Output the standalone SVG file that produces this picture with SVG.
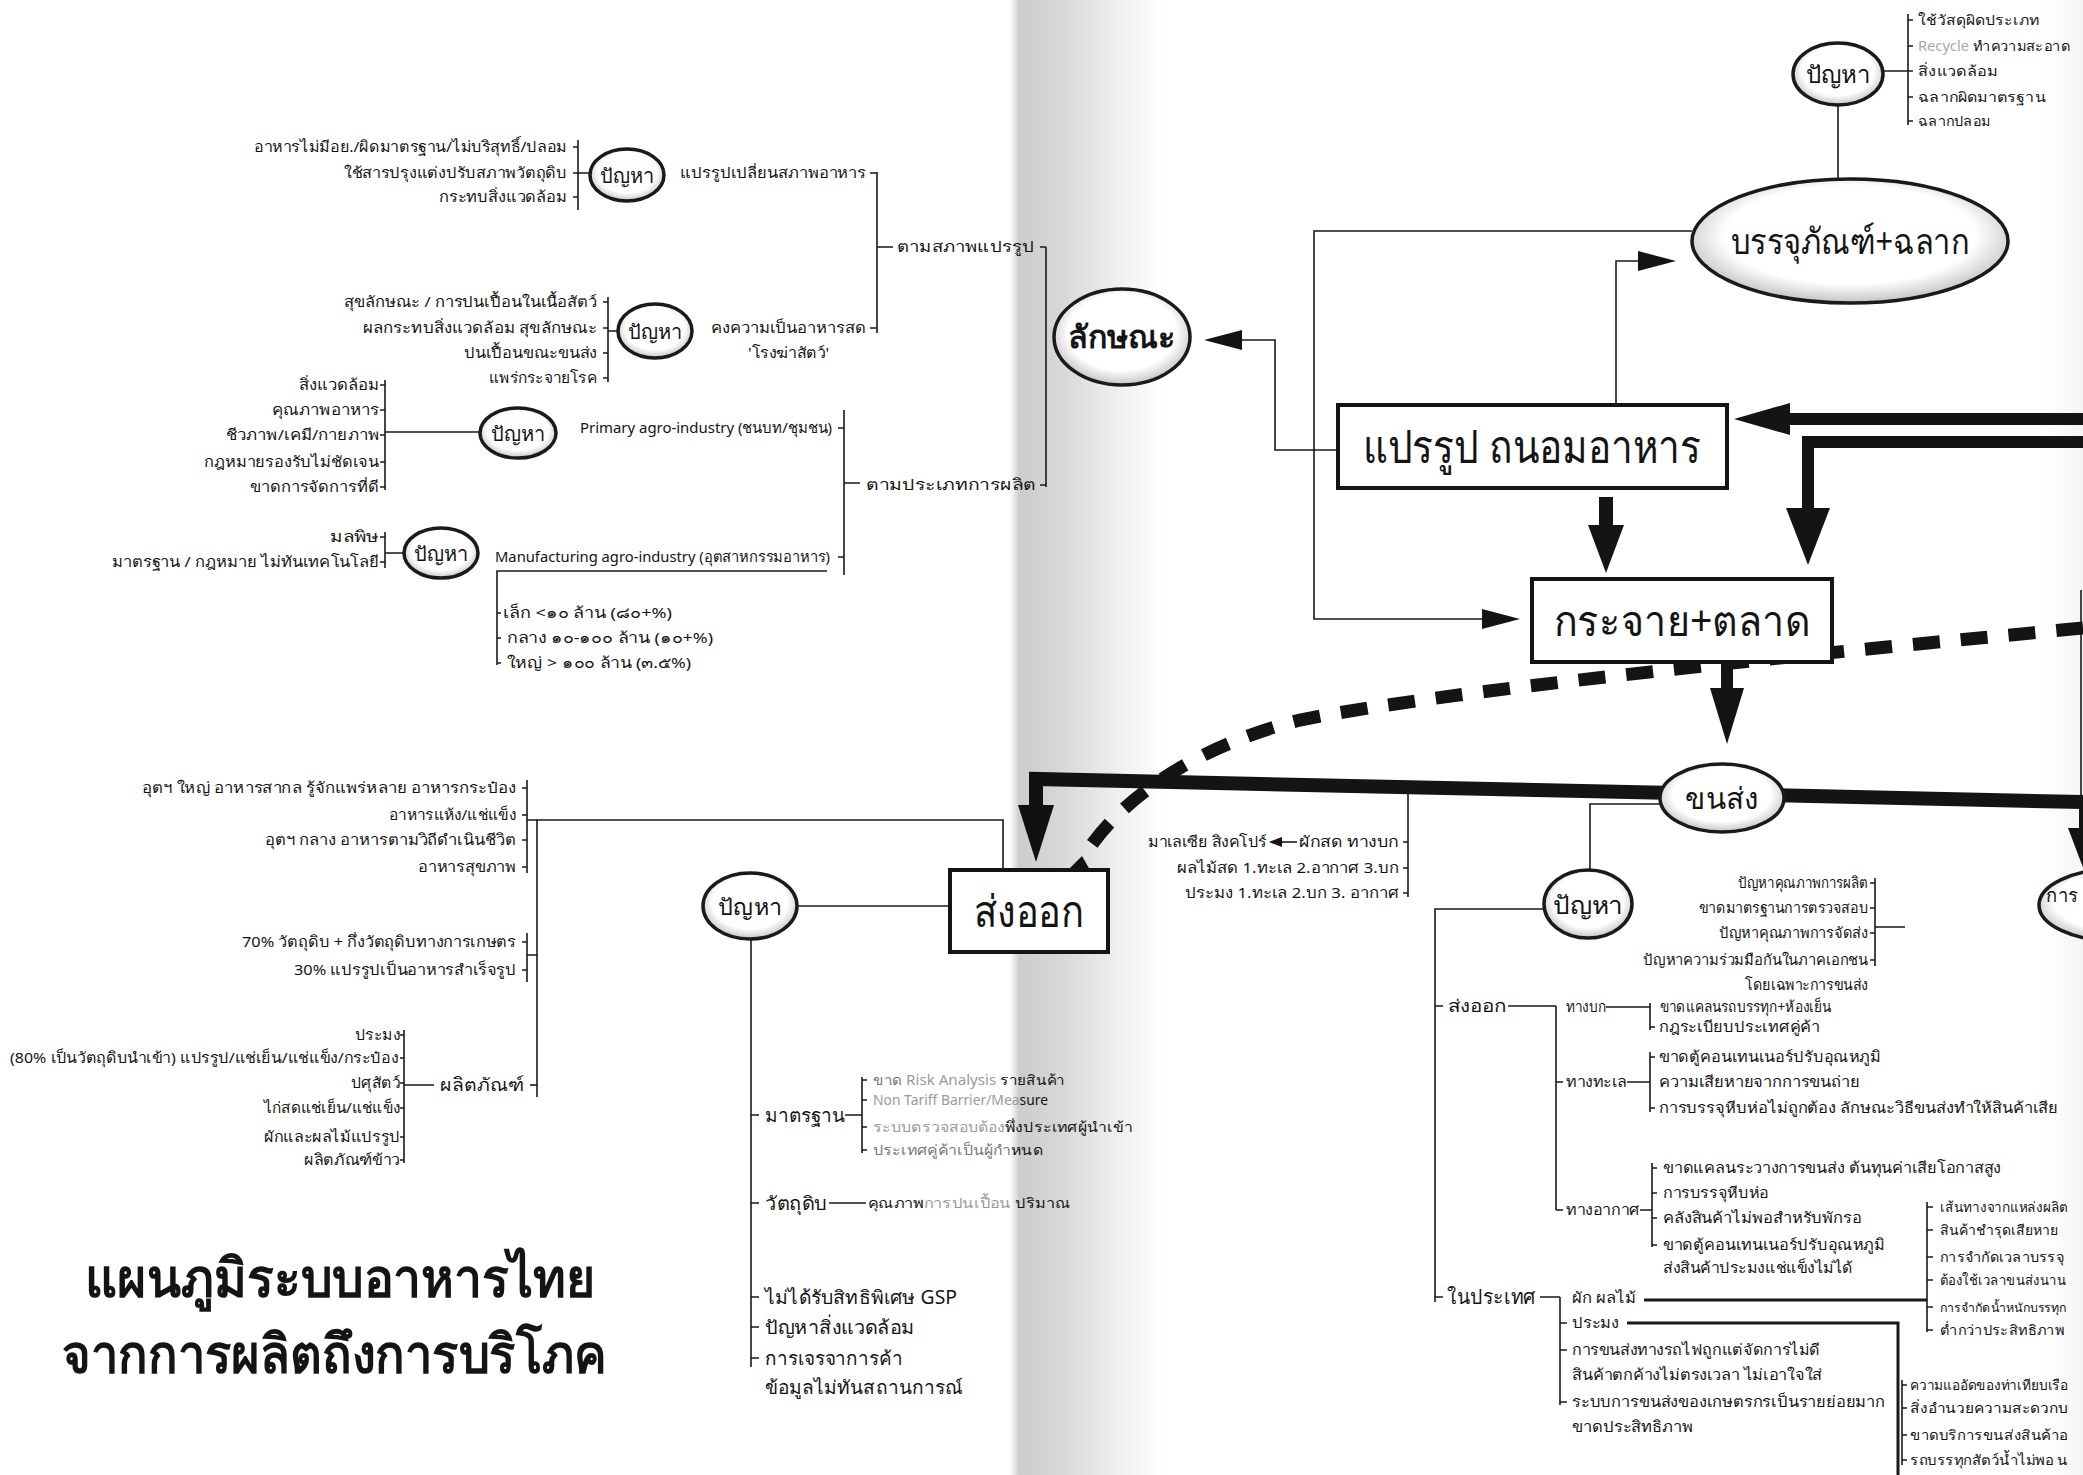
<svg xmlns="http://www.w3.org/2000/svg" width="2083" height="1475" viewBox="0 0 2083 1475">
<style>
text{font-family:"Noto Sans","DejaVu Sans",sans-serif;fill:#141414}
.s{font-size:15px}
.e{font-size:14px}
.m{font-size:19px}
.ln{stroke:#1a1a1a;stroke-width:1.6;fill:none}
.ln2{stroke:#1a1a1a;stroke-width:3;fill:none}
.thick{stroke:#141414;fill:none}
.box{fill:#fff;stroke:#141414;stroke-width:4}
.oval{fill:url(#og);stroke:#1a1a1a;stroke-width:3.5}
.ah{fill:#141414}
.c{text-anchor:middle}
.f{fill:#9a9a9a}
</style>
<defs>
<radialGradient id="og" cx="50%" cy="45%" r="55%">
<stop offset="0.72" stop-color="#ffffff"/>
<stop offset="1" stop-color="#c4c4c4"/>
</radialGradient>
<linearGradient id="spine" x1="0" y1="0" x2="1" y2="0">
<stop offset="0" stop-color="#000" stop-opacity="0"/>
<stop offset="0.06" stop-color="#000" stop-opacity="0.2"/>
<stop offset="0.35" stop-color="#000" stop-opacity="0.15"/>
<stop offset="0.75" stop-color="#000" stop-opacity="0.05"/>
<stop offset="1" stop-color="#000" stop-opacity="0"/>
</linearGradient>
<linearGradient id="edge" x1="0" y1="0" x2="1" y2="0">
<stop offset="0" stop-color="#000" stop-opacity="0"/>
<stop offset="1" stop-color="#000" stop-opacity="0.04"/>
</linearGradient>
</defs>
<rect width="2083" height="1475" fill="#fff"/>

<g id="connectors">
<path class="ln" d="M1338,450 H1275 V340 H1240"/>
<polygon class="ah" points="1204,340 1242,330 1242,350"/>
<path class="ln" d="M1692,231 H1314 V619 H1484"/>
<polygon class="ah" points="1520,619 1482,609 1482,629"/>
<path class="ln" d="M1616,405 V261 H1640"/>
<polygon class="ah" points="1676,261 1638,251 1638,271"/>
<path class="ln" d="M1838,105 V180"/>
<rect class="ah" x="1599" y="497" width="14" height="32"/>
<polygon class="ah" points="1588,525 1624,525 1606,573"/>
<path class="thick" stroke-width="12" d="M2083,419 H1786"/>
<polygon class="ah" points="1734,419 1790,403 1790,435"/>
<path class="thick" stroke-width="12" d="M2083,442 H1808 V512"/>
<polygon class="ah" points="1786,508 1830,508 1808,565"/>
<rect class="ah" x="1721" y="662" width="12" height="30"/>
<polygon class="ah" points="1710,688 1744,688 1727,744"/>
<path class="thick" stroke-width="14" d="M2083,802 L1036,779 V808"/>
<polygon class="ah" points="1018,805 1054,805 1036,862"/>
<rect class="ah" x="2079" y="802" width="12" height="30"/>
<polygon class="ah" points="2068,828 2100,828 2084,870"/>
<path class="ln" d="M2081,590 V800"/>
<path class="thick" stroke-width="13" stroke-dasharray="27 21" d="M2083,628 C1800,655 1450,690 1300,720 C1200,745 1125,795 1088,850"/>
<polygon class="ah" points="1068,870 1090,870 1082,856"/>
<path class="ln" d="M1003,870 V820 H537 V1097"/>
<path class="ln" d="M797,906 H950"/>
<path class="ln" d="M751,939 V1367"/>
<path class="ln" d="M1408,785 V897"/>
<path class="ln" d="M1660,804 H1590 V871"/>
<path class="ln" d="M1544,909 H1435 V1302"/>
</g>

<rect x="1010" y="0" width="155" height="1475" fill="url(#spine)"/>
<rect x="2040" y="0" width="43" height="1475" fill="url(#edge)"/>

<g id="n-lakshana">
<path class="ln" d="M1046,247 V487"/>
<ellipse class="oval" cx="1122" cy="337" rx="68" ry="48"/>
<text x="1122" y="348" class="c" font-size="31" font-weight="bold" textLength="108" lengthAdjust="spacingAndGlyphs">ลักษณะ</text>
</g>

<g id="n-process">
<rect class="box" x="1338" y="405" width="389" height="83"/>
<text x="1532" y="463" class="c" font-size="46" textLength="339" lengthAdjust="spacingAndGlyphs">แปรรูป ถนอมอาหาร</text>
</g>

<g id="n-market">
<rect class="box" x="1532" y="579" width="300" height="83"/>
<text x="1682" y="636" class="c" font-size="42" textLength="256" lengthAdjust="spacingAndGlyphs">กระจาย+ตลาด</text>
</g>

<g id="n-package">
<ellipse class="oval" cx="1850" cy="241" rx="158" ry="62"/>
<text x="1850" y="254" class="c" font-size="36" textLength="239" lengthAdjust="spacingAndGlyphs">บรรจุภัณฑ์+ฉลาก</text>
</g>

<g id="n-package-problem">
<ellipse class="oval" cx="1838" cy="74" rx="45" ry="31"/>
<text x="1838" y="83" class="c" font-size="24" textLength="64" lengthAdjust="spacingAndGlyphs">ปัญหา</text>
<path class="ln" d="M1883,71 H1908 M1908,14 V125 M1908,20 h5 M1908,46 h5 M1908,71 h5 M1908,97 h5 M1908,121 h5"/>
<text class="e" x="1918" y="25" textLength="121" lengthAdjust="spacingAndGlyphs">ใช้วัสดุผิดประเภท</text>
<text class="e" x="1918" y="51" textLength="152" lengthAdjust="spacingAndGlyphs"><tspan fill="#aaa">Recycle</tspan> ทำความสะอาด</text>
<text class="e" x="1918" y="76" textLength="79" lengthAdjust="spacingAndGlyphs">สิ่งแวดล้อม</text>
<text class="e" x="1918" y="102" textLength="128" lengthAdjust="spacingAndGlyphs">ฉลากผิดมาตรฐาน</text>
<text class="e" x="1918" y="126" textLength="72" lengthAdjust="spacingAndGlyphs">ฉลากปลอม</text>
</g>

<g id="n-p1">
<path class="ln" d="M578,140 V210 M573,147 h5 M573,173 h5 M573,197 h5 M578,173 H590"/>
<text class="s" x="254" y="152" textLength="313" lengthAdjust="spacingAndGlyphs">อาหารไม่มีอย./ผิดมาตรฐาน/ไม่บริสุทธิ์/ปลอม</text>
<text class="s" x="344" y="178" textLength="223" lengthAdjust="spacingAndGlyphs">ใช้สารปรุงแต่งปรับสภาพวัตถุดิบ</text>
<text class="s" x="439" y="202" textLength="128" lengthAdjust="spacingAndGlyphs">กระทบสิ่งแวดล้อม</text>
<ellipse class="oval" cx="627" cy="175" rx="37" ry="26"/>
<text x="627" y="183" class="c" font-size="20" textLength="54" lengthAdjust="spacingAndGlyphs">ปัญหา</text>
<text class="s" x="680" y="178" textLength="186" lengthAdjust="spacingAndGlyphs">แปรรูปเปลี่ยนสภาพอาหาร</text>
</g>

<g id="n-p2">
<path class="ln" d="M608,297 V382 M603,302 h5 M603,328 h5 M603,353 h5 M603,378 h5 M608,331 H619"/>
<text class="s" x="344" y="307" textLength="253" lengthAdjust="spacingAndGlyphs">สุขลักษณะ / การปนเปื้อนในเนื้อสัตว์</text>
<text class="s" x="363" y="333" textLength="234" lengthAdjust="spacingAndGlyphs">ผลกระทบสิ่งแวดล้อม สุขลักษณะ</text>
<text class="s" x="464" y="358" textLength="133" lengthAdjust="spacingAndGlyphs">ปนเปื้อนขณะขนส่ง</text>
<text class="s" x="489" y="383" textLength="108" lengthAdjust="spacingAndGlyphs">แพร่กระจายโรค</text>
<ellipse class="oval" cx="655" cy="331" rx="37" ry="27"/>
<text x="655" y="339" class="c" font-size="20" textLength="54" lengthAdjust="spacingAndGlyphs">ปัญหา</text>
<text class="s" x="711" y="333" textLength="155" lengthAdjust="spacingAndGlyphs">คงความเป็นอาหารสด</text>
<text class="s" x="748" y="358" textLength="81" lengthAdjust="spacingAndGlyphs">'โรงฆ่าสัตว์'</text>
</g>

<g id="n-by-state">
<path class="ln" d="M877,172 V333 M870,173 h7 M870,328 h7 M877,247 H893 M1040,247 h6"/>
<text class="s" x="897" y="252" textLength="137" lengthAdjust="spacingAndGlyphs">ตามสภาพแปรรูป</text>
</g>

<g id="n-p3">
<path class="ln" d="M385,380 V490 M380,385 h5 M380,410 h5 M380,435 h5 M380,462 h5 M380,487 h5 M385,432 H480"/>
<text class="s" x="299" y="390" textLength="80" lengthAdjust="spacingAndGlyphs">สิ่งแวดล้อม</text>
<text class="s" x="272" y="415" textLength="107" lengthAdjust="spacingAndGlyphs">คุณภาพอาหาร</text>
<text class="s" x="226" y="440" textLength="153" lengthAdjust="spacingAndGlyphs">ชีวภาพ/เคมี/กายภาพ</text>
<text class="s" x="204" y="467" textLength="175" lengthAdjust="spacingAndGlyphs">กฎหมายรองรับไม่ชัดเจน</text>
<text class="s" x="250" y="492" textLength="129" lengthAdjust="spacingAndGlyphs">ขาดการจัดการที่ดี</text>
<ellipse class="oval" cx="518" cy="433" rx="38" ry="25"/>
<text x="518" y="441" class="c" font-size="20" textLength="54" lengthAdjust="spacingAndGlyphs">ปัญหา</text>
<text class="s" x="580" y="433" font-size="14" textLength="252" lengthAdjust="spacingAndGlyphs">Primary agro-industry  (ชนบท/ชุมชน)</text>
</g>

<g id="n-p4">
<path class="ln" d="M385,532 V568 M380,537 h5 M380,562 h5 M385,553 H404"/>
<text class="s" x="330" y="542" textLength="49" lengthAdjust="spacingAndGlyphs">มลพิษ</text>
<text class="s" x="112" y="567" textLength="267" lengthAdjust="spacingAndGlyphs">มาตรฐาน / กฎหมาย ไม่ทันเทคโนโลยี</text>
<ellipse class="oval" cx="441" cy="553" rx="37" ry="25"/>
<text x="441" y="561" class="c" font-size="20" textLength="54" lengthAdjust="spacingAndGlyphs">ปัญหา</text>
<text class="s" x="495" y="562" textLength="335" lengthAdjust="spacingAndGlyphs">Manufacturing agro-industry (อุตสาหกรรมอาหาร)</text>
<path class="ln" d="M827,571 H497 V665 M497,613 h4 M497,638 h4 M497,663 h4"/>
<text class="s" x="503" y="618" textLength="169" lengthAdjust="spacingAndGlyphs">เล็ก &lt;๑๐ ล้าน (๘๐+%)</text>
<text class="s" x="507" y="643" textLength="206" lengthAdjust="spacingAndGlyphs">กลาง ๑๐-๑๐๐ ล้าน (๑๐+%)</text>
<text class="s" x="507" y="668" textLength="184" lengthAdjust="spacingAndGlyphs">ใหญ่ &gt; ๑๐๐ ล้าน (๓.๕%)</text>
</g>

<g id="n-by-type">
<path class="ln" d="M844,410 V575 M838,428 h6 M838,557 h6 M844,483 H860 M1040,485 h6"/>
<text class="s" x="866" y="490" textLength="170" lengthAdjust="spacingAndGlyphs">ตามประเภทการผลิต</text>
</g>

<g id="n-export-left">
<path class="ln" d="M527,780 V873 M522,788 h5 M522,815 h5 M522,840 h5 M522,867 h5 M527,820 H537"/>
<text class="s" x="142" y="793" textLength="374" lengthAdjust="spacingAndGlyphs">อุตฯ ใหญ่ อาหารสากล รู้จักแพร่หลาย อาหารกระป๋อง</text>
<text class="s" x="389" y="820" textLength="127" lengthAdjust="spacingAndGlyphs">อาหารแห้ง/แช่แข็ง</text>
<text class="s" x="265" y="845" textLength="251" lengthAdjust="spacingAndGlyphs">อุตฯ กลาง อาหารตามวิถีดำเนินชีวิต</text>
<text class="s" x="418" y="872" textLength="98" lengthAdjust="spacingAndGlyphs">อาหารสุขภาพ</text>
<path class="ln" d="M527,933 V982 M522,942 h5 M522,970 h5 M527,955 H537"/>
<text class="s" x="242" y="947" textLength="274" lengthAdjust="spacingAndGlyphs">70% วัตถุดิบ + กึ่งวัตถุดิบทางการเกษตร</text>
<text class="s" x="294" y="975" textLength="222" lengthAdjust="spacingAndGlyphs">30% แปรรูปเป็นอาหารสำเร็จรูป</text>
<path class="ln" d="M530,1085 H537"/>
<text x="440" y="1091" font-size="18" textLength="84" lengthAdjust="spacingAndGlyphs">ผลิตภัณฑ์</text>
<path class="ln" d="M404,1030 V1163 M400,1035 h4 M400,1058 h4 M400,1083 h4 M400,1108 h4 M400,1137 h4 M400,1160 h4 M404,1085 H434"/>
<text class="s" x="355" y="1040" textLength="45" lengthAdjust="spacingAndGlyphs">ประมง</text>
<text class="s" x="10" y="1063" textLength="388" lengthAdjust="spacingAndGlyphs">(80% เป็นวัตถุดิบนำเข้า) แปรรูป/แช่เย็น/แช่แข็ง/กระป๋อง</text>
<text class="s" x="351" y="1088" textLength="49" lengthAdjust="spacingAndGlyphs">ปศุสัตว์</text>
<text class="s" x="264" y="1113" textLength="136" lengthAdjust="spacingAndGlyphs">ไก่สดแช่เย็น/แช่แข็ง</text>
<text class="s" x="264" y="1142" textLength="136" lengthAdjust="spacingAndGlyphs">ผักและผลไม้แปรรูป</text>
<text class="s" x="304" y="1165" textLength="96" lengthAdjust="spacingAndGlyphs">ผลิตภัณฑ์ข้าว</text>
</g>

<g id="n-export">
<rect class="box" x="950" y="870" width="158" height="82"/>
<text x="1029" y="927" class="c" font-size="44" textLength="110" lengthAdjust="spacingAndGlyphs">ส่งออก</text>
</g>

<g id="n-export-problem">
<ellipse class="oval" cx="750" cy="906" rx="47" ry="33"/>
<text x="750" y="915" class="c" font-size="23" textLength="64" lengthAdjust="spacingAndGlyphs">ปัญหา</text>
<path class="ln" d="M751,1115 h8 M751,1203 h8 M751,1297 h8 M751,1327 h8 M751,1358 h8"/>
<text class="m" x="765" y="1122" textLength="80" lengthAdjust="spacingAndGlyphs">มาตรฐาน</text>
<path class="ln" d="M845,1115 H862 M862,1077 V1153 M862,1080 h5 M862,1100 h5 M862,1127 h5 M862,1150 h5"/>
<text x="873" y="1085" font-size="14" textLength="192" lengthAdjust="spacingAndGlyphs"><tspan fill="#777">ขาด</tspan><tspan class="f"> Risk Analysis </tspan>รายสินค้า</text>
<text x="873" y="1105" font-size="14" textLength="175" lengthAdjust="spacingAndGlyphs"><tspan class="f">Non Tariff Barrier/Mea</tspan>sure</text>
<text x="873" y="1132" font-size="14" textLength="260" lengthAdjust="spacingAndGlyphs"><tspan class="f">ระบบตรวจสอบต้อง</tspan>พึ่งประเทศผู้นำเข้า</text>
<text x="873" y="1155" font-size="14" textLength="170" lengthAdjust="spacingAndGlyphs"><tspan fill="#777">ประเทศคู่ค้าเป็นผู้กำ</tspan>หนด</text>
<text class="m" x="765" y="1210" textLength="62" lengthAdjust="spacingAndGlyphs">วัตถุดิบ</text>
<path class="ln" d="M829,1203 H866"/>
<text x="868" y="1208" font-size="14" textLength="202" lengthAdjust="spacingAndGlyphs">คุณภาพ<tspan class="f">การปนเปื้อน</tspan> ปริมาณ</text>
<text class="m" x="765" y="1304" textLength="192" lengthAdjust="spacingAndGlyphs">ไม่ได้รับสิทธิพิเศษ GSP</text>
<text class="m" x="765" y="1334" textLength="150" lengthAdjust="spacingAndGlyphs">ปัญหาสิ่งแวดล้อม</text>
<text class="m" x="765" y="1365" textLength="138" lengthAdjust="spacingAndGlyphs">การเจรจาการค้า</text>
<text class="m" x="765" y="1394" textLength="198" lengthAdjust="spacingAndGlyphs">ข้อมูลไม่ทันสถานการณ์</text>
</g>

<g id="n-export-routes">
<path class="ln" d="M1403,842 h5 M1403,868 h5 M1403,893 h5"/>
<text class="s" x="1148" y="847" textLength="119" lengthAdjust="spacingAndGlyphs">มาเลเซีย สิงคโปร์</text>
<path class="ln" d="M1297,842 H1280"/>
<polygon class="ah" points="1269,842 1282,837 1282,847"/>
<text class="s" x="1299" y="847" textLength="100" lengthAdjust="spacingAndGlyphs">ผักสด ทางบก</text>
<text class="s" x="1177" y="873" textLength="222" lengthAdjust="spacingAndGlyphs">ผลไม้สด 1.ทะเล 2.อากาศ 3.บก</text>
<text class="s" x="1185" y="898" textLength="214" lengthAdjust="spacingAndGlyphs">ประมง 1.ทะเล 2.บก 3. อากาศ</text>
</g>

<g id="n-transport">
<ellipse class="oval" cx="1722" cy="798" rx="62" ry="34"/>
<text x="1722" y="809" class="c" font-size="30" textLength="74" lengthAdjust="spacingAndGlyphs">ขนส่ง</text>
</g>

<g id="n-transport-problem">
<ellipse class="oval" cx="1588" cy="904" rx="44" ry="34"/>
<text x="1588" y="914" class="c" font-size="25" textLength="70" lengthAdjust="spacingAndGlyphs">ปัญหา</text>
<path class="ln" d="M1435,1006 h8 M1435,1297 h8"/>
<text x="1448" y="1012" font-size="17" textLength="58" lengthAdjust="spacingAndGlyphs">ส่งออก</text>
<path class="ln" d="M1508,1006 H1556 M1556,1006 V1210 M1556,1082 h7 M1556,1210 h7"/>
<text class="s" x="1566" y="1012" textLength="40" lengthAdjust="spacingAndGlyphs">ทางบก</text>
<path class="ln" d="M1606,1007 H1650 M1650,1003 V1030 M1650,1027 h5"/>
<text class="s" x="1660" y="1012" textLength="171" lengthAdjust="spacingAndGlyphs">ขาดแคลนรถบรรทุก+ห้องเย็น</text>
<text class="s" x="1659" y="1032" textLength="161" lengthAdjust="spacingAndGlyphs">กฎระเบียบประเทศคู่ค้า</text>
<text class="s" x="1566" y="1087" textLength="61" lengthAdjust="spacingAndGlyphs">ทางทะเล</text>
<path class="ln" d="M1627,1082 H1650 M1650,1052 V1112 M1650,1057 h5 M1650,1108 h5"/>
<text class="s" x="1659" y="1062" textLength="222" lengthAdjust="spacingAndGlyphs">ขาดตู้คอนเทนเนอร์ปรับอุณหภูมิ</text>
<text class="s" x="1659" y="1087" textLength="201" lengthAdjust="spacingAndGlyphs">ความเสียหายจากการขนถ่าย</text>
<text class="s" x="1659" y="1113" textLength="399" lengthAdjust="spacingAndGlyphs">การบรรจุหีบห่อไม่ถูกต้อง ลักษณะวิธีขนส่งทำให้สินค้าเสีย</text>
<text class="s" x="1566" y="1215" textLength="74" lengthAdjust="spacingAndGlyphs">ทางอากาศ</text>
<path class="ln" d="M1640,1210 H1652 M1652,1163 V1247 M1652,1168 h5 M1652,1193 h5 M1652,1218 h5 M1652,1245 h5"/>
<text class="s" x="1663" y="1173" textLength="338" lengthAdjust="spacingAndGlyphs">ขาดแคลนระวางการขนส่ง ต้นทุนค่าเสียโอกาสสูง</text>
<text class="s" x="1663" y="1198" textLength="106" lengthAdjust="spacingAndGlyphs">การบรรจุหีบห่อ</text>
<text class="s" x="1663" y="1223" textLength="199" lengthAdjust="spacingAndGlyphs">คลังสินค้าไม่พอสำหรับพักรอ</text>
<text class="s" x="1663" y="1250" textLength="222" lengthAdjust="spacingAndGlyphs">ขาดตู้คอนเทนเนอร์ปรับอุณหภูมิ</text>
<text class="s" x="1663" y="1273" textLength="190" lengthAdjust="spacingAndGlyphs">ส่งสินค้าประมงแช่แข็งไม่ได้</text>
<text x="1447" y="1304" font-size="20" textLength="89" lengthAdjust="spacingAndGlyphs">ในประเทศ</text>
<path class="ln" d="M1540,1297 H1560 M1560,1297 V1405 M1560,1323 h7 M1560,1350 h7 M1560,1402 h7"/>
<text class="s" x="1572" y="1303" textLength="64" lengthAdjust="spacingAndGlyphs">ผัก ผลไม้</text>
<path class="ln2" d="M1644,1300 H1927"/>
<path class="ln2" d="M1627,1323 H1898 V1475"/>
<path class="ln" d="M1927,1202 V1332 M1927,1207 h6 M1927,1230 h6 M1927,1257 h6 M1927,1280 h6 M1927,1307 h6 M1927,1330 h6"/>
<path class="ln" d="M1902,1380 V1465 M1902,1385 h5 M1902,1408 h5 M1902,1435 h5 M1902,1460 h5"/>
<text class="s" x="1572" y="1328" textLength="47" lengthAdjust="spacingAndGlyphs">ประมง</text>
<text class="s" x="1572" y="1355" textLength="248" lengthAdjust="spacingAndGlyphs">การขนส่งทางรถไฟถูกแต่จัดการไม่ดี</text>
<text class="s" x="1572" y="1380" textLength="250" lengthAdjust="spacingAndGlyphs">สินค้าตกค้างไม่ตรงเวลา ไม่เอาใจใส่</text>
<text class="s" x="1572" y="1407" textLength="313" lengthAdjust="spacingAndGlyphs">ระบบการขนส่งของเกษตรกรเป็นรายย่อยมาก</text>
<text class="s" x="1572" y="1432" textLength="121" lengthAdjust="spacingAndGlyphs">ขาดประสิทธิภาพ</text>
<text class="e" x="1940" y="1212" textLength="128" lengthAdjust="spacingAndGlyphs">เส้นทางจากแหล่งผลิต</text>
<text class="e" x="1940" y="1235" textLength="118" lengthAdjust="spacingAndGlyphs">สินค้าชำรุดเสียหาย</text>
<text class="e" x="1940" y="1262" textLength="124" lengthAdjust="spacingAndGlyphs">การจำกัดเวลาบรรจุ</text>
<text class="e" x="1940" y="1285" textLength="126" lengthAdjust="spacingAndGlyphs">ต้องใช้เวลาขนส่งนาน</text>
<text x="1940" y="1312" font-size="12" textLength="126" lengthAdjust="spacingAndGlyphs">การจำกัดน้ำหนักบรรทุก</text>
<text class="e" x="1940" y="1335" textLength="124" lengthAdjust="spacingAndGlyphs">ต่ำกว่าประสิทธิภาพ</text>
<text class="e" x="1910" y="1390" textLength="158" lengthAdjust="spacingAndGlyphs">ความแออัดของท่าเทียบเรือ</text>
<text class="e" x="1910" y="1413" textLength="158" lengthAdjust="spacingAndGlyphs">สิ่งอำนวยความสะดวกบ</text>
<text class="e" x="1910" y="1440" textLength="158" lengthAdjust="spacingAndGlyphs">ขาดบริการขนส่งสินค้าอ</text>
<text class="e" x="1910" y="1465" textLength="158" lengthAdjust="spacingAndGlyphs">รถบรรทุกสัตว์น้ำไม่พอ น</text>
</g>

<g id="n-quality">
<path class="ln" d="M1875,878 V966 M1870,883 h5 M1870,908 h5 M1870,933 h5 M1870,960 h5 M1875,927 H1905"/>
<text class="s" x="1738" y="888" textLength="130" lengthAdjust="spacingAndGlyphs">ปัญหาคุณภาพการผลิต</text>
<text class="s" x="1699" y="913" textLength="169" lengthAdjust="spacingAndGlyphs">ขาดมาตรฐานการตรวจสอบ</text>
<text class="s" x="1719" y="938" textLength="149" lengthAdjust="spacingAndGlyphs">ปัญหาคุณภาพการจัดส่ง</text>
<text class="s" x="1643" y="965" textLength="225" lengthAdjust="spacingAndGlyphs">ปัญหาความร่วมมือกันในภาคเอกชน</text>
<text class="s" x="1745" y="990" textLength="123" lengthAdjust="spacingAndGlyphs">โดยเฉพาะการขนส่ง</text>
<ellipse class="oval" cx="2115" cy="905" rx="76" ry="36"/>
<text x="2046" y="902" font-size="19" textLength="32" lengthAdjust="spacingAndGlyphs">การ</text>
</g>

<g id="title">
<text x="85" y="1297" font-size="54" font-weight="bold" textLength="511" lengthAdjust="spacingAndGlyphs">แผนภูมิระบบอาหารไทย</text>
<text x="62" y="1373" font-size="54" font-weight="bold" textLength="545" lengthAdjust="spacingAndGlyphs">จากการผลิตถึงการบริโภค</text>
</g>
</svg>
